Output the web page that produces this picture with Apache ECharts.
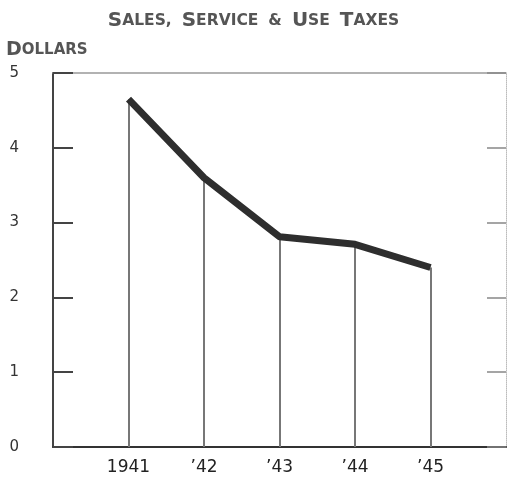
<!DOCTYPE html>
<html>
<head>
<meta charset="utf-8">
<script src="https://cdn.jsdelivr.net/npm/echarts@6/dist/echarts.min.js"></script>
<style>
  html, body { margin: 0; padding: 0; background: #fff; }
  #chart { width: 507px; height: 485px; }
</style>
</head>
<body>
<div id="chart"></div>
<script>
var myChart = echarts.init(document.getElementById('chart'));

// data
var years = [1, 2, 3, 4, 5];                          // positions on the x axis
var yearLabels = ['1941', '\u201942', '\u201943', '\u201944', '\u201945'];
var taxes = [4.65, 3.6, 2.81, 2.71, 2.4];             // dollars per capita
var yTicks = [0, 1, 2, 3, 4, 5];

var points = years.map(function (x, i) { return [x, taxes[i]]; });

// vertical drop lines from each point down to the x axis
var dropLines = points.map(function (p) {
  return [{ coord: [p[0], 0] }, { coord: [p[0], p[1]] }];
});

var option = {
  backgroundColor: '#fff',
  animation: false,
  title: {
    text: '{b|S}{s|ALES,}  {b|S}{s|ERVICE}  {s|&}  {b|U}{s|SE}  {b|T}{s|AXES}',
    left: 'center',
    top: 6,
    textStyle: {
      rich: {
        b: { fontFamily: 'DejaVu Sans', fontWeight: 'bold', fontSize: 20, color: '#555' },
        s: { fontFamily: 'DejaVu Sans', fontWeight: 'bold', fontSize: 15.5, color: '#555' }
      }
    }
  },
  graphic: [{
    type: 'text',
    left: 6,
    top: 41,
    style: {
      text: '{b|D}{s|OLLARS}',
      rich: {
        b: { fontFamily: 'DejaVu Sans', fontWeight: 'bold', fontSize: 19, fill: '#555' },
        s: { fontFamily: 'DejaVu Sans', fontWeight: 'bold', fontSize: 15, fill: '#555' }
      }
    }
  }],
  grid: {
    left: 53, right: 1, top: 73, bottom: 38,
    outerBoundsMode: 'none',
    show: false
  },
  xAxis: [{
    type: 'value',
    min: 0, max: 6, interval: 1,
    axisLine: { show: true, onZero: false, lineStyle: { color: '#333', width: 2 } },
    axisTick: { show: false },
    splitLine: { show: false },
    axisLabel: {
      margin: 12,
      fontFamily: 'DejaVu Sans',
      fontSize: 17,
      color: '#222',
      formatter: function (v) {
        var i = years.indexOf(v);
        return i >= 0 ? yearLabels[i] : '';
      }
    }
  }, {
    type: 'value',
    position: 'top',
    min: 0, max: 6,
    axisLine: { show: true, onZero: false, lineStyle: { color: '#999', width: 1.5 } },
    axisTick: { show: false },
    splitLine: { show: false },
    axisLabel: { show: false }
  }],
  yAxis: [{
    type: 'value',
    min: 0, max: 5, interval: 1,
    axisLine: { show: true, onZero: false, lineStyle: { color: '#444', width: 2 } },
    axisTick: { show: true, inside: true, length: 20, lineStyle: { color: '#444', width: 2 } },
    splitLine: { show: false },
    axisLabel: {
      margin: 34,
      fontFamily: 'DejaVu Sans',
      fontSize: 15,
      color: '#333',
      formatter: function (v) { return yTicks.indexOf(v) >= 0 ? String(v) : ''; }
    }
  }, {
    type: 'value',
    position: 'right',
    min: 0, max: 5, interval: 1,
    axisLine: { show: true, onZero: false, lineStyle: { color: '#bbb', width: 1, type: 'dotted' } },
    axisTick: { show: true, inside: true, length: 19, lineStyle: { color: '#888', width: 1.5 } },
    splitLine: { show: false },
    axisLabel: { show: false }
  }],
  series: [{
    type: 'line',
    data: points,
    symbol: 'none',
    lineStyle: { color: '#2e2e2e', width: 7, join: 'round' },
    z: 5,
    markLine: {
      silent: true,
      symbol: ['none', 'none'],
      label: { show: false },
      lineStyle: { color: '#777', width: 2, type: 'solid' },
      z: 1,
      data: dropLines
    }
  }]
};

myChart.setOption(option);
</script>
</body>
</html>
